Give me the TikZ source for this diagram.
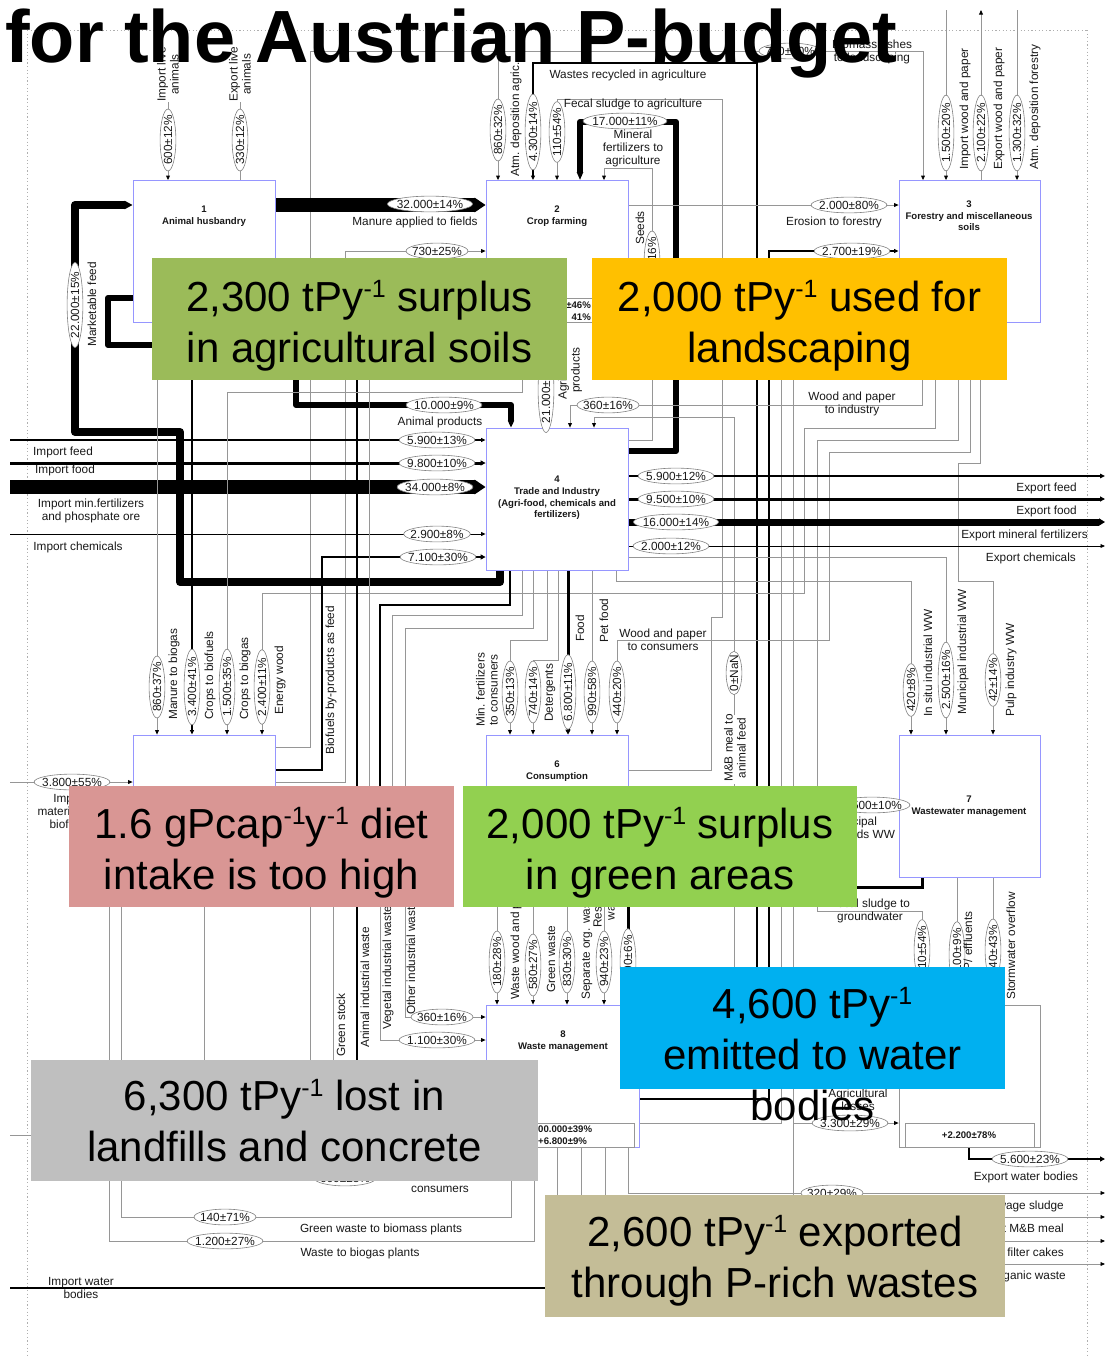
\documentclass[tikz,border=0pt]{standalone}
\usepackage{fontspec}
\setmainfont{Liberation Sans}
\usetikzlibrary{arrows.meta,shapes.geometric}
\definecolor{lav}{RGB}{150,150,255}
\definecolor{lg}{RGB}{150,150,150}
\definecolor{eg}{RGB}{130,130,130}
\definecolor{txt}{RGB}{25,25,25}
\definecolor{ovgreen}{RGB}{155,187,89}
\definecolor{ovorange}{RGB}{255,192,0}
\definecolor{ovpink}{RGB}{217,150,148}
\definecolor{ovlime}{RGB}{146,208,80}
\definecolor{ovblue}{RGB}{0,176,240}
\definecolor{ovgray}{RGB}{191,191,191}
\definecolor{ovtan}{RGB}{196,189,151}
\definecolor{dotc}{RGB}{175,175,175}
\newcommand\ffont{\fontsize{11.8}{13}\selectfont}
\newcommand\bfont{\fontsize{9.6}{11.6}\selectfont\bfseries}
\newcommand\ovfont{\fontsize{42}{51}\selectfont}
\newcommand\invexp[1]{\raisebox{0.33em}{\fontsize{25}{25}\selectfont #1}}
\begin{document}
\begin{tikzpicture}[x=1pt,y=-1pt,
  gl/.style={draw=lg,line width=0.8pt},
  bl/.style={draw=black,line width=#1},
  bl/.default=1.2pt,
  ar/.style={-{Triangle[length=4.5pt,width=3.8pt,color=black]}},
  val/.style={ellipse,draw=eg,fill=white,line width=0.6pt,font=\ffont,text=txt,
    inner xsep=-3pt,inner ysep=1.4pt},
  vval/.style={val,rotate=90},
  lbl/.style={font=\ffont,text=txt,align=center,inner sep=0pt},
  vlbl/.style={lbl,rotate=90,anchor=west},
  pbox/.style={draw=lav,line width=0.8pt,fill=white,minimum width=142pt,
    minimum height=142pt,inner sep=0pt},
  blab/.style={font=\bfont,align=center,inner sep=0pt,text=txt},
  ovtxt/.style={font=\ovfont,anchor=base,inner sep=0pt}]
\useasboundingbox (0,0) rectangle (1109,1357);
\fill[white] (0,0) rectangle (1109,1357);

% system boundary
\draw[dotc,line width=0.9pt,dash pattern=on 1.2pt off 2.4pt] (27,30) -- (27,1357) (1087,30) -- (1087,1357) (27,30) -- (1087,30);

% processes (placed first so that connectors can refer to them)
\node[pbox] (b1) at (204,251.5) {};
\node[pbox] (b2) at (557,251.5) {};
\node[pbox,minimum width=141pt] (b3) at (969.5,251.5) {};
\node[pbox] (b4) at (557,499) {};
\node[pbox] (b5) at (204,806) {};
\node[pbox] (b6) at (557,806) {};
\node[pbox,minimum width=141pt] (b7) at (969.5,806) {};
\node[pbox,minimum width=153pt] (b8) at (562.5,1076) {};
\node[pbox,draw=lg,minimum width=141pt] (b9) at (969.5,1076) {};

% ---------- flows ----------
% top
\draw[gl,ar] (168,102) -- (168,0 |- b1.north);
\draw[gl] (240,0 |- b1.north) -- (240,102);
\draw[gl,ar] (b5.east |- 0,747) -- (310,747) -- (310,51) -- (923,51) -- (923,0 |- b3.north);
\draw[gl,ar] (498,28) -- (498,0 |- b2.north);
\draw[bl=1.6pt,ar] (b8.east |- 0,1080) -- (757,1080) -- (757,63) -- (533,63) -- (533,0 |- b2.north);
\draw[gl,ar] (b6.east |- 0,770) -- (711,770) -- (711,617) -- (722,617) -- (722,99) -- (557,99) -- (557,0 |- b2.north);
\draw[bl=6pt,line join=round,-{Triangle[length=8pt,width=6pt]}] (b4.east |- 0,451) -- (676,451) -- (676,122) -- (580,122) -- (580,0 |- b2.north);
\draw[gl,ar] (b4.east |- 0,440) -- (652,440) -- (652,168) -- (604,168) -- (604,0 |- b2.north);
\draw[gl,ar] (b2.east |- 0,205) -- (b3.west |- 0,205);
\draw[bl=1.3pt,ar] (b8.east |- 0,1099) -- (769,1099) -- (769,251) -- (b3.west |- 0,251);
\draw[gl,ar] (946,10) -- (946,0 |- b3.north);
\draw[gl,ar] (981,0 |- b3.north) -- (981,10);
\draw[gl,ar] (1017,10) -- (1017,0 |- b3.north);

% between animal husbandry and crop farming
\draw[bl=14pt,-{Triangle[length=11pt,width=14pt]}] (b1.east |- 0,205) -- (b2.west |- 0,205);
\draw[gl,ar] (b5.east |- 0,782) -- (345,782) -- (345,251) -- (b2.west |- 0,251);
\draw[bl=8pt,line join=round,-{Triangle[length=8pt,width=8pt]}] (500,0 |- b4.south) -- (500,582) -- (180,582) -- (180,432) -- (75,432) -- (75,205) -- (b1.west |- 0,205);
\draw[bl=6pt,line join=round,-{Triangle[length=7pt,width=6pt]}] (b1.west |- 0,298) -- (108,298) -- (108,345) -- (296,345) -- (296,405) -- (511,405) -- (511,0 |- b4.north);
\draw[bl=8pt,-{Triangle[length=10pt,width=8pt]}] (546,0 |- b2.south) -- (546,0 |- b4.north);
\draw[gl,ar] (922,0 |- b3.south) -- (922,405) -- (570,405) -- (570,0 |- b4.north);
\draw[gl,ar] (734,715) -- (734,417) -- (594,417) -- (594,0 |- b4.north);
\draw[gl] (734,784) -- (734,1085);
\draw[gl] (b8.east |- 0,1123) -- (781,1123) -- (781,330);
\draw[gl,ar] (793,330) -- (793,1123) -- (b9.west |- 0,1123);
\draw[gl] (793,1123) -- (793,1200);
\draw[gl,ar] (935,0 |- b3.south) -- (935,428) -- (804,428) -- (804,593) -- (262,593) -- (262,0 |- b5.north);
\draw[gl,ar] (970,0 |- b3.south) -- (970,452) -- (829,452) -- (829,640) -- (617,640) -- (617,0 |- b6.north);
\draw[gl,ar] (958,0 |- b3.south) -- (958,440) -- (817,440) -- (817,911) -- (922,911) -- (922,0 |- b9.north);
\draw[gl,ar] (980,0 |- b3.south) -- (980,463) -- (958,463) -- (958,581) -- (993,581) -- (993,0 |- b7.north);

% trade and industry: exports
\draw[bl=1.5pt,-{Triangle[length=5pt,width=4.5pt]}] (b4.east |- 0,476) -- (1105,476);
\draw[bl=3pt,-{Triangle[length=5pt,width=5pt]}] (b4.east |- 0,499) -- (1105,499);
\draw[bl=7pt,-{Triangle[length=6pt,width=7pt]}] (b4.east |- 0,522) -- (1105,522);
\draw[bl=0.9pt,ar] (b4.east |- 0,546) -- (1105,546);
% trade and industry: imports
\draw[bl=1.5pt,ar] (10,440) -- (b4.west |- 0,440);
\draw[bl=3pt,-{Triangle[length=5pt,width=5pt]}] (10,463) -- (b4.west |- 0,463);
\draw[bl=14pt,-{Triangle[length=11pt,width=14pt]}] (10,487) -- (b4.west |- 0,487);
\draw[bl=0.9pt,ar] (10,534) -- (b4.west |- 0,534);
\draw[bl=2pt,-{Triangle[length=5pt,width=5pt]}] (b5.east |- 0,770) -- (322,770) -- (322,557) -- (b4.west |- 0,557);
% trade and industry to wastewater
\draw[gl,ar] (616,0 |- b4.south) -- (616,581) -- (911,581) -- (911,0 |- b7.north);
\draw[gl,ar] (b4.east |- 0,557) -- (946,557) -- (946,0 |- b7.north);
% trade and industry to consumption
\draw[gl,ar] (547,0 |- b4.south) -- (547,640) -- (510,640) -- (510,0 |- b6.north);
\draw[gl,ar] (558,0 |- b4.south) -- (558,660) -- (533,660) -- (533,0 |- b6.north);
\draw[bl=3pt,-{Triangle[length=5pt,width=5pt]}] (568,0 |- b4.south) -- (568,0 |- b6.north);
\draw[gl,ar] (592,0 |- b4.south) -- (592,0 |- b6.north);
% industrial wastes
\draw[bl=2pt] (357,350) -- (357,790);
\draw[bl=2pt,ar] (510,0 |- b4.south) -- (510,605) -- (380,605) -- (380,830) -- (357,830) -- (357,1063) -- (b8.west |- 0,1063);
\draw[gl,ar] (522,0 |- b4.south) -- (522,615) -- (392,615) -- (392,840) -- (380,840) -- (380,1040) -- (b8.west |- 0,1040);
\draw[gl,ar] (533,0 |- b4.south) -- (533,628) -- (405,628) -- (405,1017) -- (b8.west |- 0,1017);
\draw[gl] (369,350) -- (369,850) -- (333,850) -- (333,1100);
% energy crops
\draw[gl,ar] (157,0 |- b1.south) -- (157,0 |- b5.north);
\draw[bl=1.5pt,ar] (500,0 |- b2.south) -- (500,370) -- (192,370) -- (192,0 |- b5.north);
\draw[gl,ar] (522,0 |- b2.south) -- (522,392) -- (227,392) -- (227,0 |- b5.north);
\draw[gl,ar] (10,782) -- (b5.west |- 0,782);
% waste management back to energy
\draw[gl,ar] (511,0 |- b8.south) -- (511,1217) -- (121,1217) -- (121,850) -- (b5.west |- 0,850);
\draw[gl,ar] (534,0 |- b8.south) -- (534,1241) -- (109,1241) -- (109,862) -- (b5.west |- 0,862);
\draw[gl] (204,0 |- b5.south) -- (204,1100);
\draw[gl] (310,880) -- (310,1100);
% consumption to waste management
\draw[gl,ar] (497,0 |- b6.south) -- (497,0 |- b8.north);
\draw[gl,ar] (533,0 |- b6.south) -- (533,0 |- b8.north);
\draw[gl,ar] (567,0 |- b6.south) -- (567,0 |- b8.north);
\draw[gl,ar] (604,0 |- b6.south) -- (604,0 |- b8.north);
\draw[bl=3pt,-{Triangle[length=5pt,width=5pt]}] (922,0 |- b7.south) -- (922,887) -- (628,887) -- (628,0 |- b8.north);
% wastewater
\draw[gl,ar] (b6.east |- 0,805) -- (b7.west |- 0,805);
\draw[gl,ar] (957,0 |- b7.south) -- (957,0 |- b9.north);
\draw[gl,ar] (993,0 |- b7.south) -- (993,0 |- b9.north);
% exports of wastes and water
\draw[gl,ar] (628,0 |- b8.south) -- (628,1193) -- (1105,1193);
\draw[gl,ar] (605,0 |- b8.south) -- (605,1217) -- (1105,1217);
\draw[gl,ar] (581,0 |- b8.south) -- (581,1241) -- (1105,1241);
\draw[gl,ar] (557,0 |- b8.south) -- (557,1264) -- (1105,1264);
\draw[bl=2pt,-{Triangle[length=5pt,width=5pt]}] (969,0 |- b9.south) -- (969,1159) -- (1105,1159);
\draw[bl=1.2pt] (10,1288) -- (1000,1288);
\draw[gl] (10,1135) -- (200,1135);

% redraw process frames over the connectors
\node[pbox] at (b1) {}; \node[pbox] at (b2) {}; \node[pbox,minimum width=141pt] at (b3) {};
\node[pbox] at (b4) {}; \node[pbox] at (b5) {}; \node[pbox] at (b6) {};
\node[pbox,minimum width=141pt] at (b7) {}; \node[pbox,minimum width=153pt] at (b8) {};
\node[pbox,draw=lg,minimum width=141pt] at (b9) {};

% stock boxes
\draw[lg,fill=white,line width=0.7pt] (520,298) rectangle (592,322);
\node[blab,anchor=east] (s2a) at (591,305) {±46\%};
\node[blab,anchor=east] (s2b) at (591,317) {41\%};
\draw[lg,fill=white,line width=0.7pt] (515,1123) rectangle (634,1147);
\node[blab,anchor=west] (s8a) at (538,1129) {00.000±39\%};
\node[blab,anchor=west] (s8b) at (538,1141) {+6.800±9\%};
\draw[lg,fill=white,line width=0.7pt] (905,1123) rectangle (1034,1147);
\node[blab] (s9) at (969,1135) {+2.200±78\%};

% process names
\node[blab] (n1) at (204,216) {1\\Animal husbandry};
\node[blab] (n2) at (557,216) {2\\Crop farming};
\node[blab] (n3) at (969,216) {3\\Forestry and miscellaneous\\soils};
\node[blab] (n4) at (557,498) {4\\Trade and Industry\\(Agri-food, chemicals and\\fertilizers)};
\node[blab] (n6) at (557,771) {6\\Consumption};
\node[blab] (n7) at (969,806) {7\\Wastewater management};
\node[blab] (n8) at (563,1041) {8\\Waste management};

% ---------- flow values ----------
\node[vval] (e1) at (168,140) {600±12\%};
\node[vval] (e2) at (240,140) {330±12\%};
\node[val] (e3) at (790,51) {730±20\%};
\node[vval] (e4) at (498,130) {860±32\%};
\node[vval] (e5) at (533,132) {4.300±14\%};
\node[vval] (e6) at (557,132) {110±54\%};
\node[val] (e7) at (625,121) {17.000±11\%};
\node[vval] (e8) at (652,262) {190±16\%};
\node[val] (e9) at (849,205) {2.000±80\%};
\node[val] (e10) at (852,251) {2.700±19\%};
\node[vval] (e11) at (946,133) {1.500±20\%};
\node[vval] (e12) at (981,133) {2.100±22\%};
\node[vval] (e13) at (1017,133) {1.300±32\%};
\node[val] (e14) at (430,204) {32.000±14\%};
\node[val] (e15) at (437,251) {730±25\%};
\node[vval] (e16) at (75,305) {22.000±15\%};
\node[val] (e17) at (444,405) {10.000±9\%};
\node[vval] (e18) at (546,390) {21.000±12\%};
\node[val] (e19) at (608,405) {360±16\%};
\node[vval] (e20) at (734,673) {0±NaN};
\node[val] (e21) at (437,440) {5.900±13\%};
\node[val] (e22) at (437,463) {9.800±10\%};
\node[val] (e23) at (435,487) {34.000±8\%};
\node[val] (e24) at (437,534) {2.900±8\%};
\node[val] (e25) at (438,557) {7.100±30\%};
\node[val] (e26) at (676,476) {5.900±12\%};
\node[val] (e27) at (676,499) {9.500±10\%};
\node[val] (e28) at (676,522) {16.000±14\%};
\node[val] (e29) at (671,546) {2.000±12\%};
\node[vval] (e30) at (157,687) {860±37\%};
\node[vval] (e31) at (192,687) {3.400±41\%};
\node[vval] (e32) at (227,687) {1.500±35\%};
\node[vval] (e33) at (262,687) {2.400±11\%};
\node[val] (e34) at (72,782) {3.800±55\%};
\node[vval] (e35) at (510,692) {350±13\%};
\node[vval] (e36) at (533,692) {740±14\%};
\node[vval] (e37) at (568,692) {6.800±11\%};
\node[vval] (e38) at (592,692) {990±58\%};
\node[vval] (e39) at (617,692) {440±20\%};
\node[vval] (e40) at (911,690) {420±8\%};
\node[vval] (e41) at (946,680) {2.500±16\%};
\node[vval] (e42) at (993,680) {42±14\%};
\node[val] (e43) at (872,805) {1.500±10\%};
\node[vval] (e44) at (497,962) {180±28\%};
\node[vval] (e45) at (533,965) {580±27\%};
\node[vval] (e46) at (567,962) {830±30\%};
\node[vval] (e47) at (604,962) {940±23\%};
\node[vval] (e48) at (628,962) {1.300±6\%};
\node[vval] (e49) at (922,950) {110±54\%};
\node[vval] (e50) at (957,955) {1.100±9\%};
\node[vval] (e51) at (993,950) {240±43\%};
\node[val] (e52) at (442,1017) {360±16\%};
\node[val] (e53) at (437,1040) {1.100±30\%};
\node[val] (e54) at (850,1123) {3.300±29\%};
\node[val] (e55) at (1030,1159) {5.600±23\%};
\node[val] (e56) at (832,1193) {320±29\%};
\node[val] (e57) at (225,1217) {140±71\%};
\node[val] (e58) at (225,1241) {1.200±27\%};
\node[val] (e59) at (345,1178) {660±23\%};

% ---------- flow names ----------
\node[vlbl] (l1) at (168,102) {Import live\\animals};
\node[vlbl] (l2) at (240,102) {Export live\\animals};
\node[lbl] (l3) at (872,52) {Biomass ashes\\to landscaping};
\node[vlbl] (l4) at (516,177) {Atm. deposition agric.};
\node[lbl] (l5) at (628,75) {Wastes recycled in agriculture};
\node[lbl] (l6) at (633,104) {Fecal sludge to agriculture};
\node[lbl] (l7) at (633,148) {Mineral\\fertilizers to\\agriculture};
\node[vlbl] (l8) at (640,245) {Seeds};
\node[lbl] (l9) at (834,222) {Erosion to forestry};
\node[vlbl] (l10) at (965,170) {Import wood and paper};
\node[vlbl] (l11) at (999,170) {Export wood and paper};
\node[vlbl] (l12) at (1035,170) {Atm. deposition forestry};
\node[lbl] (l13) at (415,222) {Manure applied to fields};
\node[vlbl] (l14) at (92,347) {Marketable feed};
\node[lbl] (l15) at (440,422) {Animal products};
\node[vlbl] (l16) at (570,400) {Agricultural\\products};
\node[lbl] (l17) at (852,404) {Wood and paper\\to industry};
\node[lbl] (l18) at (63,452) {Import feed};
\node[lbl] (l19) at (65,470) {Import food};
\node[lbl] (l20) at (91,511) {Import min.fertilizers\\and phosphate ore};
\node[lbl] (l21) at (78,547) {Import chemicals};
\node[lbl,anchor=east] (l22) at (1077,488) {Export feed};
\node[lbl,anchor=east] (l23) at (1077,511) {Export food};
\node[lbl,anchor=east] (l24) at (1088,535) {Export mineral fertilizers};
\node[lbl,anchor=east] (l25) at (1076,558) {Export chemicals};
\node[vlbl] (l26) at (174,720) {Manure to biogas};
\node[vlbl] (l27) at (210,720) {Crops to biofuels};
\node[vlbl] (l28) at (245,720) {Crops to biogas};
\node[vlbl] (l29) at (280,715) {Energy wood};
\node[vlbl] (l30) at (331,755) {Biofuels by-products as feed};
\node[lbl] (l31) at (70,811) {Import\\materials for\\biofuels};
\node[vlbl] (l32) at (487,727) {Min. fertilizers\\to consumers};
\node[vlbl] (l33) at (550,722) {Detergents};
\node[vlbl] (l34) at (580,642) {Food};
\node[vlbl] (l35) at (604,643) {Pet food};
\node[lbl] (l36) at (663,640) {Wood and paper\\to consumers};
\node[vlbl] (l37) at (735,782) {M\&B meal to\\animal feed};
\node[vlbl] (l38) at (928,717) {In situ industrial WW};
\node[vlbl] (l39) at (963,715) {Municipal industrial WW};
\node[vlbl] (l40) at (1011,717) {Pulp industry WW};
\node[lbl] (l41) at (852,828) {Municipal\\households WW};
\node[lbl] (l42) at (870,911) {Fecal sludge to\\groundwater};
\node[vlbl] (l43) at (968,1000) {WWTP/ effluents};
\node[vlbl] (l44) at (1011,1000) {Stormwater overflow};
\node[vlbl] (l45) at (516,1000) {Waste wood and paper};
\node[vlbl] (l46) at (551,993) {Green waste};
\node[vlbl] (l47) at (587,1000) {Separate org. waste};
\node[vlbl] (l48) at (604,928) {Residual\\waste};
\node[vlbl] (l49) at (341,1057) {Green stock};
\node[vlbl] (l50) at (365,1048) {Animal industrial waste};
\node[vlbl] (l51) at (388,1030) {Vegetal industrial waste};
\node[vlbl] (l52) at (411,1015) {Other industrial waste};
\node[lbl] (l53) at (858,1100) {Agricultural\\losses};
\node[lbl] (l54) at (1026,1177) {Export water bodies};
\node[lbl,anchor=east] (l55) at (1064,1206) {Export sewage sludge};
\node[lbl,anchor=east] (l56) at (1064,1229) {Export M\&B meal};
\node[lbl,anchor=east] (l57) at (1064,1253) {Export filter cakes};
\node[lbl,anchor=east] (l58) at (1066,1276) {Export organic waste};
\node[lbl] (l59) at (440,1189) {consumers};
\node[lbl] (l60) at (381,1229) {Green waste to biomass plants};
\node[lbl] (l61) at (360,1253) {Waste to biogas plants};
\node[lbl] (l62) at (81,1288) {Import water\\bodies};

% ---------- key messages ----------
\fill[ovgreen] (152,258) rectangle (567,380);
\node[ovtxt] (k1a) at (359.5,311) {2,300 tPy\invexp{-1} surplus};
\node[ovtxt] (k1b) at (359.5,362) {in agricultural soils};
\fill[ovorange] (592,258) rectangle (1007,380);
\node[ovtxt] (k2a) at (799.5,311) {2,000 tPy\invexp{-1} used for};
\node[ovtxt] (k2b) at (799.5,362) {landscaping};
\fill[ovpink] (69,786) rectangle (454,907);
\node[ovtxt] (k3a) at (261.5,838) {1.6 gPcap\invexp{-1}y\invexp{-1} diet};
\node[ovtxt] (k3b) at (261.5,889) {intake is too high};
\fill[ovlime] (463,786) rectangle (857,907);
\node[ovtxt] (k4a) at (660,838) {2,000 tPy\invexp{-1} surplus};
\node[ovtxt] (k4b) at (660,889) {in green areas};
\fill[ovblue] (620,967) rectangle (1005,1089);
\node[ovtxt] (k5a) at (812.5,1018) {4,600 tPy\invexp{-1}};
\node[ovtxt] (k5b) at (812.5,1069) {emitted to water};
\node[ovtxt] (k5c) at (812.5,1120) {bodies};
\fill[ovgray] (31,1060) rectangle (538,1181);
\node[ovtxt] (k6a) at (284.5,1110) {6,300 tPy\invexp{-1} lost in};
\node[ovtxt] (k6b) at (284.5,1161) {landfills and concrete};
\fill[ovtan] (545,1195) rectangle (1005,1317);
\node[ovtxt] (k7a) at (775,1246) {2,600 tPy\invexp{-1} exported};
\node[ovtxt] (k7b) at (775,1297) {through P-rich wastes};

% heading
\node[anchor=base west,inner sep=0pt,font=\fontsize{74}{80}\selectfont\bfseries] (title) at (5,62) {for the Austrian P-budget};
\end{tikzpicture}
\end{document}
